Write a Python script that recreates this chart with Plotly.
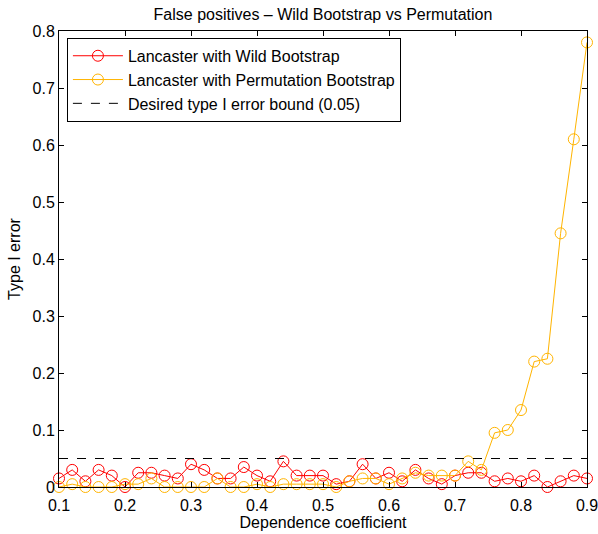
import plotly.graph_objects as go

dep_coef = [0.10, 0.12, 0.14, 0.16, 0.18, 0.20, 0.22, 0.24, 0.26, 0.28,
            0.30, 0.32, 0.34, 0.36, 0.38, 0.40, 0.42, 0.44, 0.46, 0.48,
            0.50, 0.52, 0.54, 0.56, 0.58, 0.60, 0.62, 0.64, 0.66, 0.68,
            0.70, 0.72, 0.74, 0.76, 0.78, 0.80, 0.82, 0.84, 0.86, 0.88, 0.90]

wild = [0.015, 0.03, 0.01, 0.03, 0.02, 0.0, 0.025, 0.025, 0.02, 0.015,
        0.04, 0.03, 0.015, 0.015, 0.035, 0.02, 0.01, 0.045, 0.02, 0.02,
        0.02, 0.005, 0.01, 0.04, 0.015, 0.025, 0.01, 0.03, 0.015, 0.005,
        0.02, 0.025, 0.025, 0.01, 0.015, 0.01, 0.02, 0.0, 0.01, 0.02, 0.015]

perm = [0.0, 0.005, 0.0, 0.0, 0.0, 0.005, 0.005, 0.015, 0.0, 0.0,
        0.0, 0.0, 0.015, 0.0, 0.0, 0.005, 0.0, 0.005, 0.005, 0.005,
        0.005, 0.0, 0.01, 0.015, 0.015, 0.005, 0.015, 0.025, 0.02, 0.02,
        0.02, 0.045, 0.03, 0.095, 0.10, 0.135, 0.22, 0.225, 0.445, 0.61, 0.78]

bound_x = [0.1, 0.9]
bound_y = [0.05, 0.05]

x_ticks = [0.1, 0.2, 0.3, 0.4, 0.5, 0.6, 0.7, 0.8, 0.9]
y_ticks = [0, 0.1, 0.2, 0.3, 0.4, 0.5, 0.6, 0.7, 0.8]

RED = "#ff0000"
ORANGE = "#ffb400"
FONT = "Liberation Sans, Arial, sans-serif"
FS = 16

fig = go.Figure()
fig.add_trace(go.Scatter(
    x=dep_coef, y=wild, mode="lines+markers", name="Lancaster with Wild Bootstrap",
    line=dict(color=RED, width=1),
    marker=dict(symbol="circle-open", size=11, color=RED, line=dict(width=1)),
    cliponaxis=False))
fig.add_trace(go.Scatter(
    x=dep_coef, y=perm, mode="lines+markers", name="Lancaster with Permutation Bootstrap",
    line=dict(color=ORANGE, width=1),
    marker=dict(symbol="circle-open", size=11, color=ORANGE, line=dict(width=1)),
    cliponaxis=False))
fig.add_trace(go.Scatter(
    x=bound_x, y=bound_y, mode="lines", name="Desired type I error bound (0.05)",
    line=dict(color="black", width=1, dash="dash")))

axis_common = dict(
    showgrid=False, zeroline=False, showline=True, linecolor="black", linewidth=1,
    mirror="ticks", ticks="inside", ticklen=5, tickcolor="black", tickwidth=1,
    ticklabeloverflow="allow", automargin=False,
    tickfont=dict(family=FONT, size=FS, color="black"))

eps = 1e-6
fig.update_xaxes(range=[0.1 - eps, 0.9 + eps], tickvals=x_ticks, ticktext=[f"{v:g}" for v in x_ticks],
                 ticklabelstandoff=4,
                 title=dict(text="Dependence coefficient", font=dict(family=FONT, size=FS, color="black"), standoff=2),
                 **axis_common)
fig.update_yaxes(range=[0 - eps, 0.8 + eps], tickvals=y_ticks, ticktext=[f"{v:g}" for v in y_ticks],
                 title=dict(text="Type I error", font=dict(family=FONT, size=FS, color="black"), standoff=7),
                 **axis_common)

fig.update_layout(
    width=598, height=534,
    margin=dict(l=59, r=11, t=31, b=47),
    paper_bgcolor="white", plot_bgcolor="white",
    font=dict(family=FONT, size=FS, color="black"),
    title=dict(text="False positives \u2013 Wild Bootstrap vs Permutation",
               xref="paper", x=0.5, xanchor="center", y=1 - 14 / 534, yanchor="middle",
               font=dict(family=FONT, size=FS, color="black")),
    legend=dict(x=0.015, y=0.985, xanchor="left", yanchor="top",
                bgcolor="white", bordercolor="black", borderwidth=1,
                font=dict(family=FONT, size=FS, color="black"),
                tracegroupgap=0, itemwidth=50),
    showlegend=True,
)

fig.write_html("out.html")
